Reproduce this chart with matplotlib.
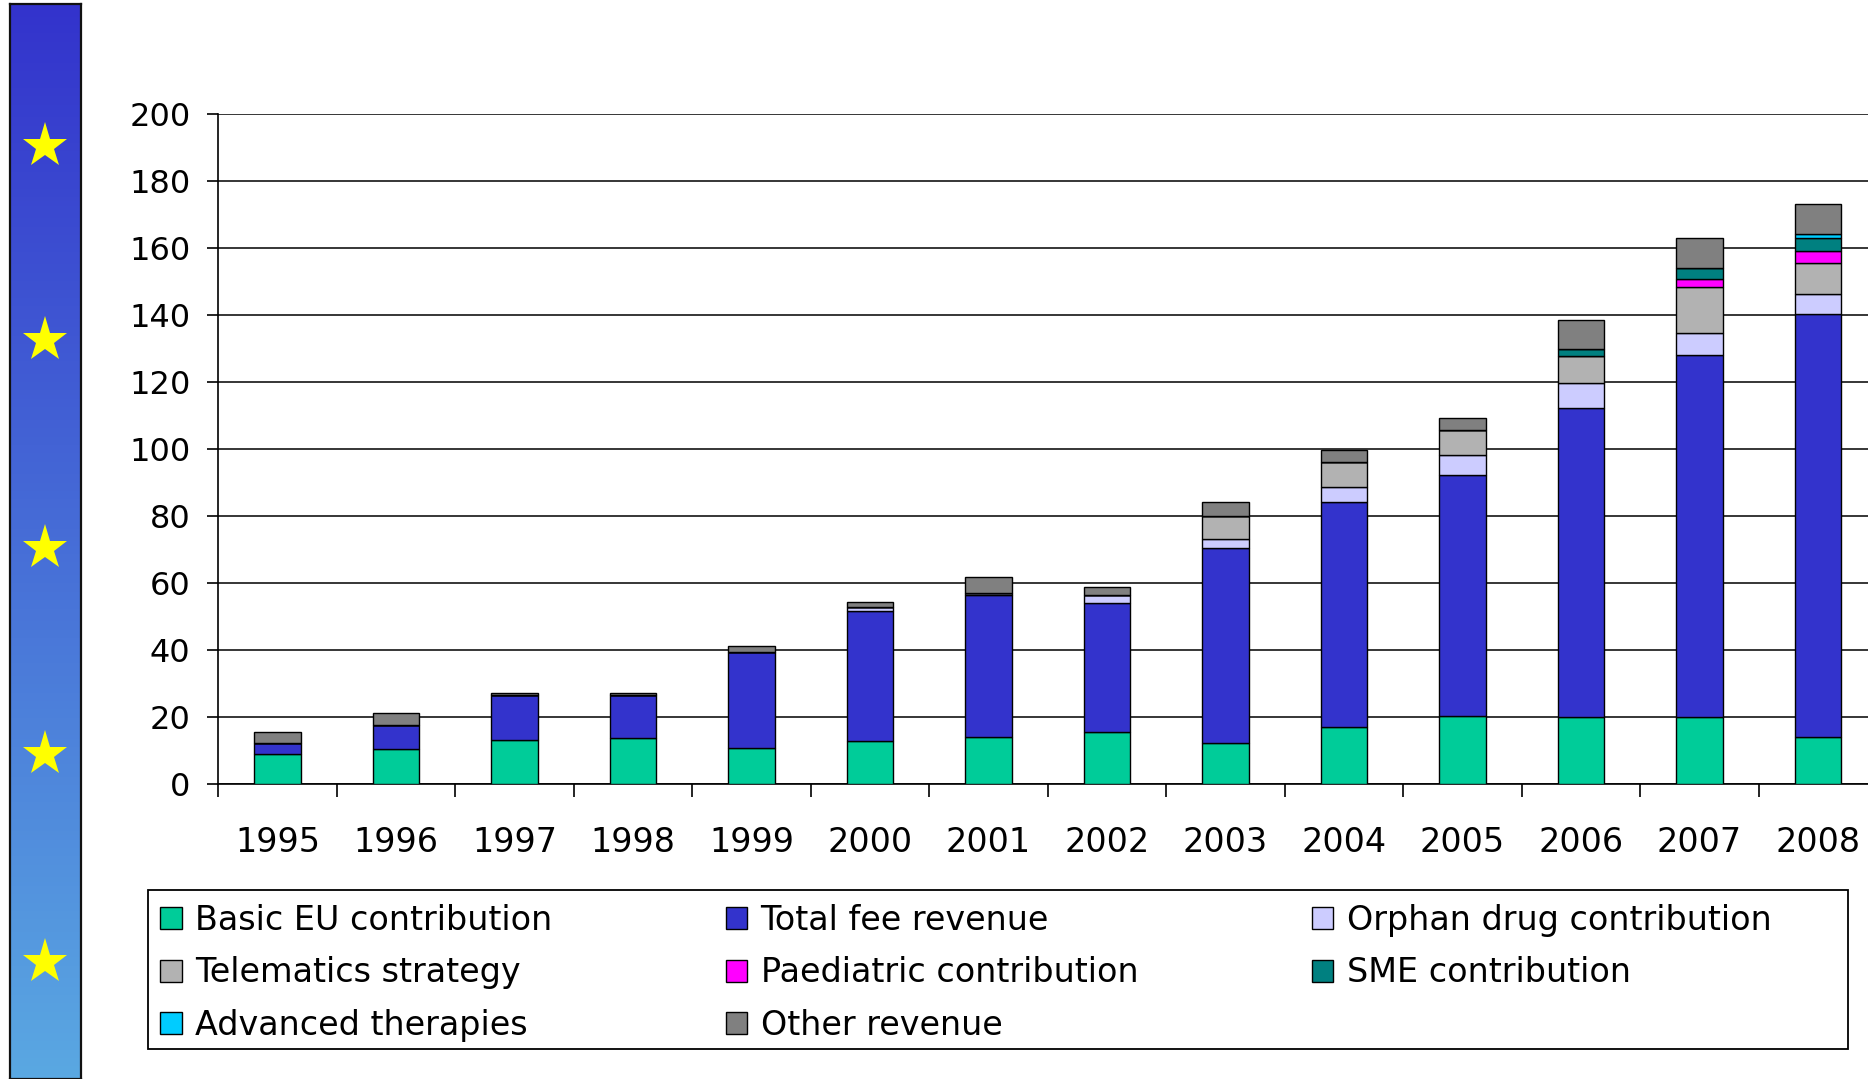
import matplotlib
matplotlib.use("Agg")
import matplotlib.pyplot as plt
import matplotlib.patches as mpatches
import numpy as np

# data (EUR millions)
years = ["1995", "1996", "1997", "1998", "1999", "2000", "2001",
         "2002", "2003", "2004", "2005", "2006", "2007", "2008"]
basic_eu = [9.0, 10.5, 13.2, 13.8, 10.6, 12.7, 13.9, 15.4, 12.1, 17.0, 20.2, 20.0, 20.0, 14.1]
fee_revenue = [3.2, 7.1, 13.5, 12.9, 28.8, 39.0, 42.5, 38.5, 58.2, 67.1, 72.0, 92.2, 108.1, 126.3]
orphan_drug = [0, 0, 0, 0, 0, 1.0, 0.6, 2.5, 2.7, 4.5, 5.9, 7.4, 6.5, 5.8]
telematics = [0, 0, 0, 0, 0, 0, 0, 0, 7.0, 7.4, 7.6, 8.2, 13.9, 9.2]
paediatric = [0, 0, 0, 0, 0, 0, 0, 0, 0, 0, 0, 0, 2.2, 3.6]
sme = [0, 0, 0, 0, 0, 0, 0, 0, 0, 0, 0, 2.0, 3.3, 4.0]
advanced = [0, 0, 0, 0, 0, 0, 0, 0, 0, 0, 0, 0, 0, 1.2]
other_revenue = [3.2, 3.7, 0.6, 0.6, 1.7, 1.5, 4.8, 2.3, 4.3, 3.7, 3.6, 8.6, 8.9, 8.9]

series = [
    ("Basic EU contribution", basic_eu, "#00CC99"),
    ("Total fee revenue", fee_revenue, "#3333CC"),
    ("Orphan drug contribution", orphan_drug, "#CCCCFF"),
    ("Telematics strategy", telematics, "#B2B2B2"),
    ("Paediatric contribution", paediatric, "#FF00FF"),
    ("SME contribution", sme, "#008080"),
    ("Advanced therapies", advanced, "#00CCFF"),
    ("Other revenue", other_revenue, "#808080"),
]

W, H = 1868, 1079
fig = plt.figure(figsize=(W / 100, H / 100), dpi=100)
fig.patch.set_facecolor("white")

# blue strip with stars on the left
strip = fig.add_axes([9.5 / W, 0, 71.5 / W, 1075 / H])
grad = np.linspace(0, 1, 256).reshape(-1, 1)
top_c = np.array([0x33, 0x33, 0xCC]) / 255
bot_c = np.array([0x5A, 0xA8, 0xE2]) / 255
img = top_c[None, None, :] * (1 - grad[:, :, None]) + bot_c[None, None, :] * grad[:, :, None]
strip.imshow(img, aspect="auto", extent=[0, 1, 0, 1])
star_px = [146, 340, 548, 754, 962]
strip.plot([0.5] * len(star_px), [(1079 - y) / 1075 for y in star_px], linestyle="none",
           marker="*", markersize=34, color="#FFFF00", markeredgewidth=0)
strip.set_xlim(0, 1)
strip.set_ylim(0, 1)
strip.set_xticks([])
strip.set_yticks([])
for s in strip.spines.values():
    s.set_color("#111111")
    s.set_linewidth(1.6)

# main chart
ax = fig.add_axes([218.25 / W, 1 - 784 / H, (1877.3 - 218.25) / W, 670 / H])
x = np.arange(len(years))
bottom = np.zeros(len(years))
bars = []
for label, vals, col in series:
    b = ax.bar(x, vals, 0.39, bottom=bottom, color=col, edgecolor="black",
               linewidth=1.0, label=label, zorder=3)
    bars.append(b)
    bottom = bottom + np.array(vals)

ax.set_xlim(-0.5, 13.5)
ax.set_ylim(0, 200)
ax.set_yticks(np.arange(0, 201, 20))
ax.yaxis.grid(True, color="black", linewidth=1.1)
ax.set_axisbelow(True)
for side in ["top", "right"]:
    ax.spines[side].set_visible(False)
for side in ["left", "bottom"]:
    ax.spines[side].set_linewidth(1.2)
ax.set_xticks(x)
ax.set_xticklabels(years)
ax.set_xticks(np.arange(-0.5, 14, 1), minor=True)
ax.tick_params(axis="x", which="major", length=0, pad=30, labelsize=24)
ax.tick_params(axis="x", which="minor", length=9, width=1.2, direction="out")
ax.tick_params(axis="y", length=8, width=1.2, pad=12, labelsize=23)

# legend, three columns filled row by row
order = [0, 3, 6, 1, 4, 7, 2, 5]
leg = ax.legend([bars[i] for i in order], [series[i][0] for i in order],
                ncol=3, loc="upper left", frameon=False,
                bbox_to_anchor=(160 / W, 1 - 904 / H), bbox_transform=fig.transFigure,
                fontsize=24, handlelength=0.65, handleheight=0.65, handletextpad=0.4,
                labelspacing=0.58, columnspacing=5.2, borderpad=0, borderaxespad=0)
fig.patches.append(mpatches.Rectangle((148 / W, 1 - 1049 / H), 1700 / W, 159 / H,
                                      transform=fig.transFigure, fill=False,
                                      edgecolor="black", linewidth=1.3))

fig.savefig("out.png", dpi=100)
